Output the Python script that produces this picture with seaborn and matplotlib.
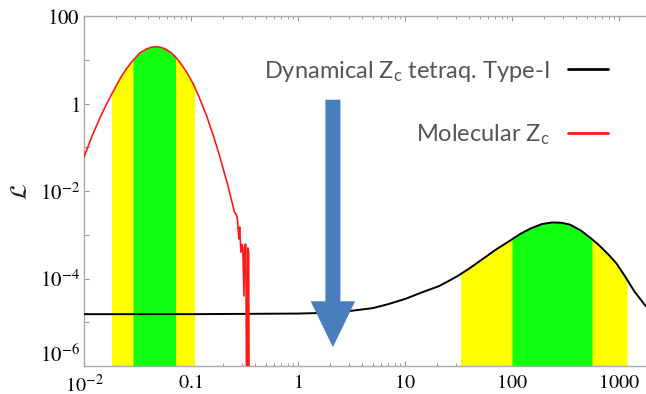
import numpy as np
import pandas as pd
import matplotlib
matplotlib.use("Agg")
import matplotlib.pyplot as plt
import matplotlib.ticker as mticker
import seaborn as sns

# ---------------- data ----------------
mol_x = [0.01, 0.012, 0.014, 0.016, 0.0183, 0.022, 0.025, 0.028, 0.033, 0.038,
         0.043, 0.047, 0.052, 0.058, 0.065, 0.073, 0.082, 0.092, 0.105, 0.12,
         0.14, 0.16, 0.18, 0.2, 0.22, 0.24, 0.255, 0.262, 0.268, 0.272, 0.28,
         0.285, 0.293, 0.30, 0.305, 0.313, 0.318, 0.326, 0.333, 0.34, 0.346, 0.352]
mol_y = [0.06, 0.19, 0.45, 0.9, 1.7, 3.9, 6.3, 9.0, 14.0, 17.5,
         19.5, 19.8, 19.3, 17.5, 14.6, 11.0, 7.6, 5.0, 2.8, 1.35,
         0.52, 0.2, 0.08, 0.032, 0.014, 0.006, 0.0033, 0.003, 0.0027, 0.0022, 8e-4,
         1.5e-3, 4e-4, 6e-4, 5e-4, 4e-5, 6e-4, 6e-4, 1e-9, 5e-4, 4e-4, 1e-9]

dyn_x = [0.01, 0.1, 1, 2, 3, 5, 7, 10, 15, 20.8, 25, 32, 40, 50, 70, 94, 120, 150,
         190, 237, 290, 350, 440, 547, 650, 800, 950, 1140, 1400, 1790]
dyn_y = [1.53e-5, 1.53e-5, 1.58e-5, 1.65e-5, 1.8e-5, 2.1e-5, 2.6e-5, 3.4e-5, 5e-5, 6.7e-5,
         8.5e-5, 1.19e-4, 1.7e-4, 2.5e-4, 4.5e-4, 7.1e-4, 1.05e-3, 1.4e-3,
         1.75e-3, 1.91e-3, 1.88e-3, 1.7e-3, 1.25e-3, 8.3e-4, 5.8e-4, 3.5e-4,
         2.2e-4, 1.12e-4, 5e-5, 2.3e-5]

# confidence bands (x-ranges): outer (yellow) and inner (green)
mol_band_outer = (0.0183, 0.109)
mol_band_inner = (0.029, 0.0724)
dyn_band_outer = (33.0, 1190.0)
dyn_band_inner = (100.0, 560.0)

arrow_x = 2.12
arrow_y_from = 1.22
arrow_y_to = 2.7e-6

x_tick_vals = [0.01, 0.1, 1, 10, 100, 1000]
x_tick_labels = [r"$10^{-2}$", r"$0.1$", r"$1$", r"$10$", r"$100$", r"$1000$"]
y_tick_vals = [1e-6, 1e-5, 1e-4, 1e-3, 1e-2, 1e-1, 1, 10, 100]
y_tick_labels = [r"$10^{-6}$", "", r"$10^{-4}$", "", r"$10^{-2}$", "", r"$1$", "", r"$100$"]

label_dyn = r"Dynamical $\mathregular{Z_c}$ tetraq. Type-I"
label_mol = r"Molecular $\mathregular{Z_c}$"

# ---------------- style ----------------
sns.set_style("white")
plt.rcParams["font.family"] = ["Lato", "DejaVu Sans"]
plt.rcParams["mathtext.fontset"] = "stix"

fig = plt.figure(figsize=(6.46, 3.94), dpi=100)
ax = fig.add_axes([84 / 646, 28 / 394, 562 / 646, 350 / 394])
ax.set_xscale("log")
ax.set_yscale("log")
ax.set_xlim(0.01, 1790)
ax.set_ylim(1e-6, 100)

YELLOW = "#ffff00"
GREEN = "#12ff12"


def band(xs, ys, lo, hi, color):
    xs = np.asarray(xs, float)
    ys = np.asarray(ys, float)
    lx, ly = np.log10(xs), np.log10(ys)
    inside = (xs > lo) & (xs < hi)
    bx = np.concatenate([[lo], xs[inside], [hi]])
    by = 10 ** np.interp(np.log10(bx), lx, ly)
    ax.fill_between(bx, 1e-9, by, color=color, linewidth=0, zorder=1)


band(mol_x, mol_y, *mol_band_outer, YELLOW)
band(mol_x, mol_y, *mol_band_inner, GREEN)
band(dyn_x, dyn_y, *dyn_band_outer, YELLOW)
band(dyn_x, dyn_y, *dyn_band_inner, GREEN)

df_dyn = pd.DataFrame({"x": dyn_x, "y": dyn_y})
df_mol = pd.DataFrame({"x": mol_x, "y": mol_y})
sns.lineplot(data=df_dyn, x="x", y="y", ax=ax, color="black", linewidth=1.4,
             estimator=None, label=label_dyn, zorder=3)
sns.lineplot(data=df_mol, x="x", y="y", ax=ax, color="#ff1a1a", linewidth=1.2,
             estimator=None, label=label_mol, zorder=3)

# blue arrow
ax.annotate("", xy=(arrow_x, arrow_y_to), xytext=(arrow_x, arrow_y_from),
            arrowprops=dict(arrowstyle="simple,head_length=33,head_width=32,tail_width=10.8",
                            mutation_scale=1, color="#4a7dbd", shrinkA=0, shrinkB=0,
                            linewidth=0),
            zorder=5)

# axes styling
for side in ["left", "bottom", "top"]:
    ax.spines[side].set_color("#aaaaaa")
    ax.spines[side].set_linewidth(1.0)
ax.spines["right"].set_visible(False)

ax.xaxis.set_major_locator(mticker.FixedLocator(x_tick_vals))
ax.xaxis.set_major_formatter(mticker.FixedFormatter(x_tick_labels))
ax.xaxis.set_minor_locator(mticker.LogLocator(base=10, subs=np.arange(2, 10)))
ax.xaxis.set_minor_formatter(mticker.NullFormatter())
ax.yaxis.set_major_locator(mticker.FixedLocator(y_tick_vals))
ax.yaxis.set_major_formatter(mticker.FixedFormatter(y_tick_labels))
ax.yaxis.set_minor_locator(mticker.NullLocator())

ax.tick_params(axis="both", which="major", direction="in", length=3.5, width=0.8,
               color="#999999", labelsize=15, labelcolor="black")
ax.tick_params(axis="both", which="minor", direction="in", length=2, width=0.7,
               color="#999999")
ax.tick_params(axis="x", which="both", top=True, bottom=True, pad=5, labelsize=14.5)
ax.tick_params(axis="y", which="both", left=True, right=False, pad=3)

ax.set_xlabel("")
ax.set_ylabel(r"$\mathcal{L}$", fontsize=17, labelpad=6)

handles, labels = ax.get_legend_handles_labels()
leg = ax.legend(handles, labels, loc="upper right", bbox_to_anchor=(0.932, 0.878),
                frameon=False, markerfirst=False, fontsize=17, handlelength=1.7,
                handletextpad=0.76, labelspacing=1.63, borderpad=0, borderaxespad=0)
for t in leg.get_texts():
    t.set_color("#555555")
for h in leg.get_lines():
    h.set_linewidth(2.0)

# the lowest y label sits just above the corner, as in the reference
fig.canvas.draw()
ax.yaxis.get_major_ticks()[0].label1.set_verticalalignment("bottom")

fig.savefig("out.png", dpi=100)
